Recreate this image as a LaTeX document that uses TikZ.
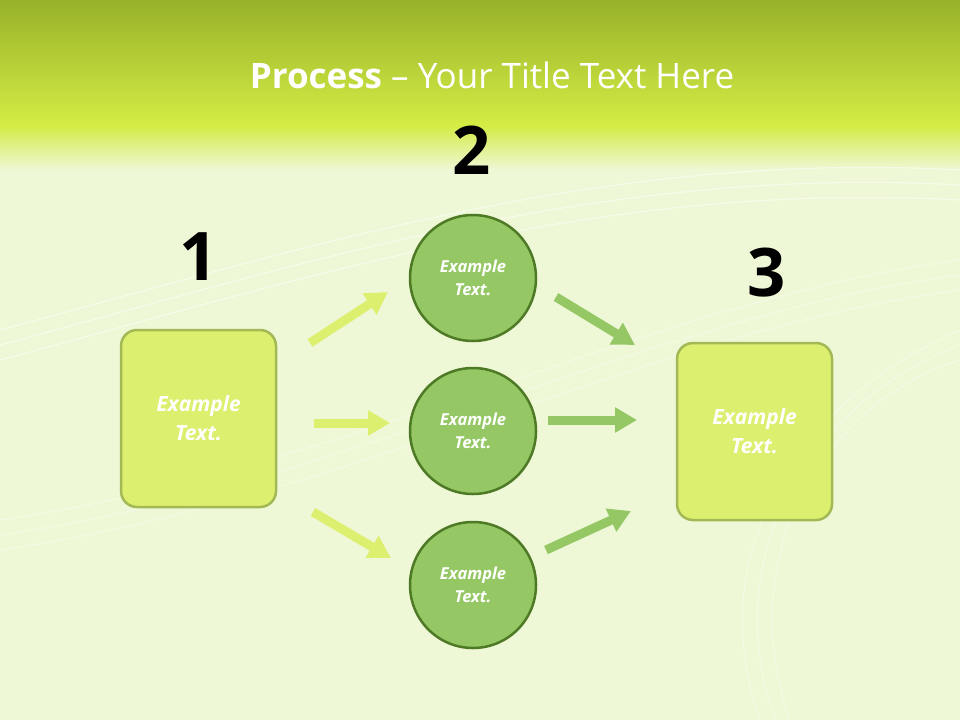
\documentclass[tikz,border=0pt]{standalone}
\usepackage{fontspec}
\setmainfont{Open Sans}
\usetikzlibrary{arrows.meta}
\definecolor{lime}{HTML}{DDEF6E}
\definecolor{limeb}{HTML}{A2B955}
\definecolor{cgreen}{HTML}{95C865}
\definecolor{cgb}{HTML}{4E7A25}
\definecolor{topc}{HTML}{98B22A}
\definecolor{midc}{HTML}{D4EC44}
\definecolor{pale}{HTML}{EEF7D6}
\tikzset{
 box/.style={draw=limeb,line width=2.5pt,fill=lime,rounded corners=16pt,minimum width=155pt,minimum height=177pt,inner sep=0pt},
 circ/.style={circle,draw=cgb,line width=2.5pt,fill=cgreen,minimum size=126pt,inner sep=0pt},
 lbl/.style={text=white,align=center},
 num/.style={font=\bfseries\fontsize{67}{70}\selectfont,text=black},
 arrl/.style={draw=lime,line width=9pt,-{Triangle[width=24pt,length=22pt]}},
 arrd/.style={draw=cgreen,line width=9pt,-{Triangle[width=24pt,length=22pt]}},
}
\begin{document}
\begin{tikzpicture}[x=1pt,y=-1pt]
\useasboundingbox (0,0) rectangle (960,720);
\fill[pale] (0,0) rectangle (960,720);
\shade[top color=topc,bottom color=midc] (0,0) rectangle (960,125);
\shade[top color=midc,bottom color=pale] (0,125) rectangle (960,170);
\foreach \d in {0,15,30}{
\draw[white,opacity=0.5,line width=1.2pt] (0,330+\d) .. controls (300,250+\d) and (600,150+\d) .. (960,170+\d);
\draw[white,opacity=0.4,line width=1pt] (0,520+\d) .. controls (350,470+\d) and (650,300+\d) .. (960,260+\d);
\draw[white,opacity=0.4,line width=1pt] (760+\d,720) .. controls (700+\d,550) and (800+\d,400) .. (960,330+\d);}
\node[text=white,font=\fontsize{35}{40}\selectfont] (title) at (492,75) {\textbf{Process} – Your Title Text Here};
\node[box] (b1) at (198.5,418.5) {};
\node[box] (b3) at (754.5,431.5) {};
\node[lbl,font=\bfseries\itshape\fontsize{21}{29}\selectfont] at (b1) {Example\\Text.};
\node[lbl,font=\bfseries\itshape\fontsize{21}{29}\selectfont] at (b3) {Example\\Text.};
\node[circ] (c1) at (473,278) {};
\node[circ] (c2) at (473,431) {};
\node[circ] (c3) at (473,585) {};
\foreach \c in {c1,c2,c3}
 \node[lbl,font=\bfseries\itshape\fontsize{16.5}{23}\selectfont] at (\c) {Example\\Text.};
\node[num] (n1) at (199,257) {1};
\node[num] (n2) at (472,150) {2};
\node[num] (n3) at (767,273) {3};
\coordinate (a1s) at (310,343); \coordinate (a1e) at (388,292);
\coordinate (a2s) at (314,423); \coordinate (a2e) at (390,423);
\coordinate (a3s) at (313,512); \coordinate (a3e) at (391,558);
\coordinate (d1s) at (556,297); \coordinate (d1e) at (635,345);
\coordinate (d2s) at (548,420); \coordinate (d2e) at (637,420);
\coordinate (d3s) at (546,550); \coordinate (d3e) at (631,511);
\draw[arrl] (a1s) -- (a1e);
\draw[arrl] (a2s) -- (a2e);
\draw[arrl] (a3s) -- (a3e);
\draw[arrd] (d1s) -- (d1e);
\draw[arrd] (d2s) -- (d2e);
\draw[arrd] (d3s) -- (d3e);
\end{tikzpicture}
\end{document}
